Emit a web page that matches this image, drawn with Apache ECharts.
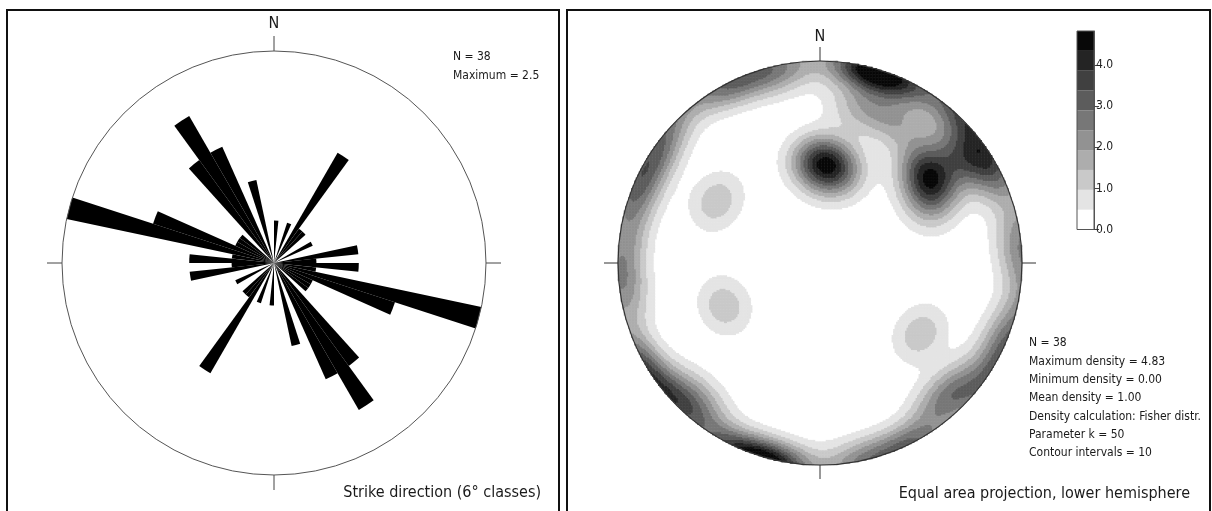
<!DOCTYPE html>
<html>
<head>
<meta charset="utf-8">
<script src="https://cdn.jsdelivr.net/npm/echarts@6/dist/echarts.min.js"></script>
<style>
html,body{margin:0;padding:0;background:#fff;}
#c{width:1212px;height:511px;}
</style>
</head>
<body>
<div id="c"></div>
<script>
// ---------- Rose diagram data (strike direction, 6° classes) ----------
const strikeClassLabels = [];
for (let a = 0; a < 360; a += 6) strikeClassLabels.push(a + '-' + (a + 6));
const strikeValues = [
  0.5, 0, 0, 0.5, 0, 1.5, 0.5, 0.5, 0, 0,
  0.5, 0, 0, 1.0, 0.5, 1.0, 0.5, 2.5, 1.5, 0.5,
  0.5, 0.5, 0, 1.5, 2.0, 1.5, 0, 1.0, 0, 0,
  0.5, 0, 0, 0.5, 0, 1.5, 0.5, 0.5, 0, 0,
  0.5, 0, 0, 1.0, 0.5, 1.0, 0.5, 2.5, 1.5, 0.5,
  0.5, 0.5, 0, 1.5, 2.0, 1.5, 0, 1.0, 0, 0
];
const roseMax = 2.5;

// ---------- Stereonet data: poles (trend, plunge in degrees) ----------
const poleTrend = [358, 2, 6, 10, 15, 29, 11, 14, 17, 20,
                   27, 42, 52, 56, 49, 52, 54, 60, 58, 62,
                   222, 300, 308, 132, 138, 301, 246, 125, 262, 276,
                   290, 333, 347, 153, 168, 228, 112, 85];
const polePlunge = [46, 49, 51, 53, 22, 22, 1, 0, 2, 4,
                    0, 0, 15, 12, 30, 31, 33, 40, 1, 2,
                    12, 5, 3, 8, 12, 40, 47, 39, 6, 5,
                    6, 3, 6, 2, 3, 3, 5, 5];
const fisherK = 50;

// ---------- Contour levels / colour bar ----------
const maxDensity = 4.83;
const contourColors = ['#ffffff', '#e4e4e4', '#c9c9c9', '#adadad', '#929292',
                       '#777777', '#5c5c5c', '#404040', '#242424', '#080808'];
const colorbarTicks = [0, 1, 2, 3, 4];

const FONT = '"DejaVu Sans Condensed", "DejaVu Sans", Tahoma, sans-serif';

// ---------- Density grid (Fisher kernel, lower hemisphere, equal area) ----------
const M = 270;
const D2R = Math.PI / 180;
const poleVec = poleTrend.map((t, i) => {
  const tr = t * D2R, pl = polePlunge[i] * D2R;
  return [Math.cos(pl) * Math.sin(tr), Math.cos(pl) * Math.cos(tr), Math.sin(pl)];
});
const nP = poleVec.length;
const heatData = [];
const cats = [];
for (let i = 0; i < M; i++) cats.push(i);
for (let j = 0; j < M; j++) {
  const y = -1 + (j + 0.5) * 2 / M;
  for (let i = 0; i < M; i++) {
    const x = -1 + (i + 0.5) * 2 / M;
    const r2 = x * x + y * y;
    if (r2 > 1) continue;
    const r = Math.sqrt(r2);
    const th = 2 * Math.asin(Math.min(1, r / Math.SQRT2));
    const tr = Math.atan2(x, y);
    const pl = Math.PI / 2 - th;
    const v = [Math.cos(pl) * Math.sin(tr), Math.cos(pl) * Math.cos(tr), Math.sin(pl)];
    let s = 0;
    for (let p = 0; p < nP; p++) {
      const q = poleVec[p];
      const c = Math.abs(v[0] * q[0] + v[1] * q[1] + v[2] * q[2]);
      s += Math.exp(fisherK * (c - 1));
    }
    heatData.push([i, j, fisherK * s / nP]);
  }
}

const step = maxDensity / contourColors.length;
const pieces = contourColors.map((c, i) => ({
  gte: i * step, lt: (i === contourColors.length - 1) ? 1000 : (i + 1) * step, color: c
}));

const colorbarSeries = contourColors.map((c) => ({
  type: 'bar', xAxisIndex: 1, yAxisIndex: 1, stack: 'cb',
  data: [step], barWidth: '100%', itemStyle: { color: c }, silent: true
}));

const chart = echarts.init(document.getElementById('c'), null, { renderer: 'canvas' });

function txt(x, y, text, size, align, vAlign) {
  return { type: 'text', x: x, y: y, z: 50,
    style: { text: text, font: size + 'px ' + FONT, fill: '#1a1a1a',
      textAlign: align || 'left', textVerticalAlign: vAlign || 'middle' } };
}

const compassLabel = (v) => (v === 0 ? 'N' : '');

chart.setOption({
  animation: false,
  backgroundColor: '#fff',
  textStyle: { fontFamily: FONT },
  polar: [
    { center: [274, 263], radius: 212 },
    { center: [274, 263], radius: 212 },
    { center: [820, 263], radius: 202 }
  ],
  angleAxis: [
    { polarIndex: 0, type: 'category', data: strikeClassLabels, startAngle: 90, clockwise: true,
      axisLine: { show: false }, axisTick: { show: false }, axisLabel: { show: false }, splitLine: { show: false } },
    { polarIndex: 1, type: 'value', min: 0, max: 360, interval: 90, startAngle: 90, clockwise: true, z: 5,
      axisLine: { lineStyle: { color: '#555', width: 1 } },
      axisTick: { show: true, length: 15, lineStyle: { color: '#444', width: 1 } },
      axisLabel: { formatter: compassLabel, margin: 19, fontSize: 16, color: '#1a1a1a', fontFamily: FONT },
      splitLine: { show: false } },
    { polarIndex: 2, type: 'value', min: 0, max: 360, interval: 90, startAngle: 90, clockwise: true, z: 10,
      axisLine: { lineStyle: { color: '#333', width: 1.2 } },
      axisTick: { show: true, length: 14, lineStyle: { color: '#333', width: 1 } },
      axisLabel: { formatter: compassLabel, margin: 16, fontSize: 16, color: '#1a1a1a', fontFamily: FONT },
      splitLine: { show: false } }
  ],
  radiusAxis: [
    { polarIndex: 0, min: 0, max: roseMax, axisLine: { show: false }, axisTick: { show: false }, axisLabel: { show: false }, splitLine: { show: false } },
    { polarIndex: 1, min: 0, max: 1, axisLine: { show: false }, axisTick: { show: false }, axisLabel: { show: false }, splitLine: { show: false } },
    { polarIndex: 2, min: 0, max: 1, axisLine: { show: false }, axisTick: { show: false }, axisLabel: { show: false }, splitLine: { show: false } }
  ],
  grid: [
    { left: 618, top: 61, width: 404, height: 404, show: false },
    { left: 1077, top: 31, width: 17, height: 198.5, show: true, borderColor: '#555', borderWidth: 1, backgroundColor: 'transparent', z: 10 }
  ],
  xAxis: [
    { gridIndex: 0, type: 'category', data: cats, show: false },
    { gridIndex: 1, type: 'category', data: ['d'], show: false }
  ],
  yAxis: [
    { gridIndex: 0, type: 'category', data: cats, show: false },
    { gridIndex: 1, type: 'value', min: 0, max: maxDensity, interval: 1, position: 'right',
      axisLine: { show: true, lineStyle: { color: '#555' } },
      axisTick: { show: true, length: 5, lineStyle: { color: '#444' } },
      axisLabel: { margin: 2, fontSize: 12, color: '#222', fontFamily: FONT, showMaxLabel: false,
        formatter: (v) => colorbarTicks.indexOf(v) >= 0 ? v.toFixed(1) : '' },
      splitLine: { show: false } }
  ],
  visualMap: [{ type: 'piecewise', show: false, seriesIndex: 1, dimension: 2, pieces: pieces }],
  series: [
    { type: 'bar', coordinateSystem: 'polar', polarIndex: 0, data: strikeValues,
      barCategoryGap: '0%', barGap: '0%', itemStyle: { color: '#000' }, silent: true },
    { type: 'heatmap', xAxisIndex: 0, yAxisIndex: 0, data: heatData, progressive: 0,
      itemStyle: { borderWidth: 0 }, silent: true, emphasis: { disabled: true } }
  ].concat(colorbarSeries),
  graphic: [
    { type: 'rect', z: 40, shape: { x: 7, y: 10, width: 552, height: 520 },
      style: { fill: 'none', stroke: '#111', lineWidth: 2 } },
    { type: 'rect', z: 40, shape: { x: 567, y: 10, width: 643, height: 520 },
      style: { fill: 'none', stroke: '#111', lineWidth: 2 } },
    txt(453, 57, 'N = 38', 12),
    txt(453, 76, 'Maximum = 2.5', 12),
    txt(541, 493, 'Strike direction (6\u00b0 classes)', 16, 'right'),
    txt(1029, 343, 'N = 38', 12),
    txt(1029, 361.5, 'Maximum density = 4.83', 12),
    txt(1029, 380, 'Minimum density = 0.00', 12),
    txt(1029, 398, 'Mean density = 1.00', 12),
    txt(1029, 416.5, 'Density calculation: Fisher distr.', 12),
    txt(1029, 434.5, 'Parameter k = 50', 12),
    txt(1029, 452.5, 'Contour intervals = 10', 12),
    txt(1190, 494, 'Equal area projection, lower hemisphere', 16, 'right')
  ]
});
</script>
</body>
</html>
